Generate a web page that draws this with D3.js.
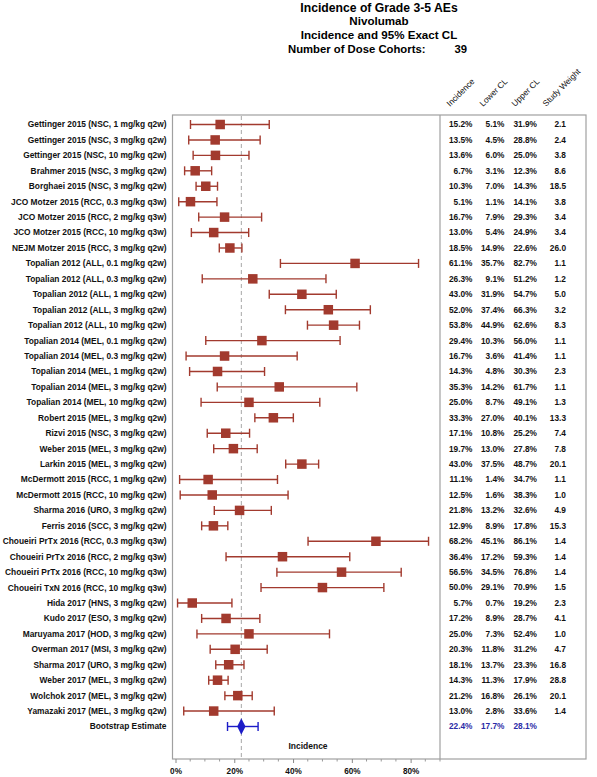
<!DOCTYPE html>
<html><head><meta charset="utf-8">
<script src="https://cdn.jsdelivr.net/npm/d3@7"></script>
<style>body{margin:0;background:#fff}svg{display:block}text{font-family:"Liberation Sans",Arial,sans-serif}</style>
</head><body>
<script>
const studies = [
"Gettinger 2015 (NSC, 1 mg/kg q2w)","Gettinger 2015 (NSC, 3 mg/kg q2w)","Gettinger 2015 (NSC, 10 mg/kg q2w)",
"Brahmer 2015 (NSC, 3 mg/kg q2w)","Borghaei 2015 (NSC, 3 mg/kg q2w)","JCO Motzer 2015 (RCC, 0.3 mg/kg q3w)",
"JCO Motzer 2015 (RCC, 2 mg/kg q3w)","JCO Motzer 2015 (RCC, 10 mg/kg q3w)","NEJM Motzer 2015 (RCC, 3 mg/kg q2w)",
"Topalian 2012 (ALL, 0.1 mg/kg q2w)","Topalian 2012 (ALL, 0.3 mg/kg q2w)","Topalian 2012 (ALL, 1 mg/kg q2w)",
"Topalian 2012 (ALL, 3 mg/kg q2w)","Topalian 2012 (ALL, 10 mg/kg q2w)","Topalian 2014 (MEL, 0.1 mg/kg q2w)",
"Topalian 2014 (MEL, 0.3 mg/kg q2w)","Topalian 2014 (MEL, 1 mg/kg q2w)","Topalian 2014 (MEL, 3 mg/kg q2w)",
"Topalian 2014 (MEL, 10 mg/kg q2w)","Robert 2015 (MEL, 3 mg/kg q2w)","Rizvi 2015 (NSC, 3 mg/kg q2w)",
"Weber 2015 (MEL, 3 mg/kg q2w)","Larkin 2015 (MEL, 3 mg/kg q2w)","McDermott 2015 (RCC, 1 mg/kg q2w)",
"McDermott 2015 (RCC, 10 mg/kg q2w)","Sharma 2016 (URO, 3 mg/kg q2w)","Ferris 2016 (SCC, 3 mg/kg q2w)",
"Choueiri PrTx 2016 (RCC, 0.3 mg/kg q3w)","Choueiri PrTx 2016 (RCC, 2 mg/kg q3w)","Choueiri PrTx 2016 (RCC, 10 mg/kg q3w)",
"Choueiri TxN 2016 (RCC, 10 mg/kg q3w)","Hida 2017 (HNS, 3 mg/kg q2w)","Kudo 2017 (ESO, 3 mg/kg q2w)",
"Maruyama 2017 (HOD, 3 mg/kg q2w)","Overman 2017 (MSI, 3 mg/kg q2w)","Sharma 2017 (URO, 3 mg/kg q2w)",
"Weber 2017 (MEL, 3 mg/kg q2w)","Wolchok 2017 (MEL, 3 mg/kg q2w)","Yamazaki 2017 (MEL, 3 mg/kg q2w)"];
const incidence = [15.2,13.5,13.6,6.7,10.3,5.1,16.7,13.0,18.5,61.1,26.3,43.0,52.0,53.8,29.4,16.7,14.3,35.3,25.0,33.3,17.1,19.7,43.0,11.1,12.5,21.8,12.9,68.2,36.4,56.5,50.0,5.7,17.2,25.0,20.3,18.1,14.3,21.2,13.0];
const lowerCL = [5.1,4.5,6.0,3.1,7.0,1.1,7.9,5.4,14.9,35.7,9.1,31.9,37.4,44.9,10.3,3.6,4.8,14.2,8.7,27.0,10.8,13.0,37.5,1.4,1.6,13.2,8.9,45.1,17.2,34.5,29.1,0.7,8.9,7.3,11.8,13.7,11.3,16.8,2.8];
const upperCL = [31.9,28.8,25.0,12.3,14.3,14.1,29.3,24.9,22.6,82.7,51.2,54.7,66.3,62.6,56.0,41.4,30.3,61.7,49.1,40.1,25.2,27.8,48.7,34.7,38.3,32.6,17.8,86.1,59.3,76.8,70.9,19.2,28.7,52.4,31.2,23.3,17.9,26.1,33.6];
const weight = [2.1,2.4,3.8,8.6,18.5,3.8,3.4,3.4,26.0,1.1,1.2,5.0,3.2,8.3,1.1,1.1,2.3,1.1,1.3,13.3,7.4,7.8,20.1,1.1,1.0,4.9,15.3,1.4,1.4,1.4,1.5,2.3,4.1,1.0,4.7,16.8,28.8,20.1,1.4];
const bootLabel = "Bootstrap Estimate";
const bootstrap = {inc:22.4, lo:17.7, hi:28.1};
const colHeaders = ["Incidence","Lower CL","Upper CL","Study Weight"];
const xTicks = [0,20,40,60,80];
const titles = ["Incidence of Grade 3-5 AEs","Nivolumab","Incidence and 95% Exact CL"];
const cohortLabel = "Number of Dose Cohorts:";
const cohortCount = "39";

const W=597,H=777;
const red="#A23A2E", blue="#1C1CC8", blueText="#2B2BA6";
const svg=d3.select("body").append("svg").attr("width",W).attr("height",H);

const frame={l:172.5,t:115,r:586,b:759}, divX=440;
const x=d3.scaleLinear().domain([0,90]).range([175.5,440]);
const rows=studies.concat([bootLabel]);
const y=d3.scalePoint().domain(rows).range([124.5,726.5]);

// titles
const tg=svg.append("g").attr("font-weight","bold").attr("fill","#000").attr("text-anchor","middle");
tg.append("text").attr("x",379).attr("y",11.5).attr("font-size",12.2).text(titles[0]);
tg.append("text").attr("x",379).attr("y",24.5).attr("font-size",11.6).text(titles[1]);
tg.append("text").attr("x",379).attr("y",38.8).attr("font-size",11.6).text(titles[2]);
tg.append("text").attr("x",288).attr("y",52.5).attr("font-size",11.3).attr("text-anchor","start").text(cohortLabel);
tg.append("text").attr("x",467).attr("y",52.5).attr("font-size",11.3).attr("text-anchor","end").text(cohortCount);

// frame
svg.append("rect").attr("x",frame.l).attr("y",frame.t).attr("width",frame.r-frame.l).attr("height",frame.b-frame.t)
  .attr("fill","none").attr("stroke","#A0A0A0").attr("stroke-width",1.2);
svg.append("line").attr("x1",divX).attr("x2",divX).attr("y1",frame.t).attr("y2",frame.b).attr("stroke","#A0A0A0").attr("stroke-width",1.2);

// reference line
svg.append("line").attr("x1",x(bootstrap.inc)).attr("x2",x(bootstrap.inc)).attr("y1",frame.t+1).attr("y2",frame.b-1)
  .attr("stroke","#A8A8A8").attr("stroke-width",1).attr("stroke-dasharray","4,3");

// row labels
svg.append("g").attr("font-size",8.4).attr("font-weight","bold").attr("text-anchor","end").attr("fill","#111")
  .selectAll("text").data(rows).join("text")
  .attr("x",166.5).attr("y",d=>y(d)).attr("dy","0.35em").text(d=>d);

// study CI
const data=studies.map((s,i)=>({s,inc:incidence[i],lo:lowerCL[i],hi:upperCL[i],w:weight[i]}));
const cg=svg.append("g").attr("stroke",red).attr("stroke-width",1.4);
cg.selectAll("line.ci").data(data).join("line").attr("class","ci")
  .attr("x1",d=>x(d.lo)).attr("x2",d=>x(d.hi)).attr("y1",d=>y(d.s)).attr("y2",d=>y(d.s));
cg.selectAll("line.capl").data(data).join("line").attr("class","capl")
  .attr("x1",d=>x(d.lo)).attr("x2",d=>x(d.lo)).attr("y1",d=>y(d.s)-4.5).attr("y2",d=>y(d.s)+4.5);
cg.selectAll("line.caph").data(data).join("line").attr("class","caph")
  .attr("x1",d=>x(d.hi)).attr("x2",d=>x(d.hi)).attr("y1",d=>y(d.s)-4.5).attr("y2",d=>y(d.s)+4.5);
const ms=9.5;
svg.append("g").selectAll("rect").data(data).join("rect")
  .attr("x",d=>x(d.inc)-ms/2).attr("y",d=>y(d.s)-ms/2).attr("width",ms).attr("height",ms).attr("fill",red);

// bootstrap
const by=y(bootLabel);
const bg=svg.append("g").attr("stroke",blue).attr("stroke-width",1.4);
bg.append("line").attr("x1",x(bootstrap.lo)).attr("x2",x(bootstrap.hi)).attr("y1",by).attr("y2",by);
bg.append("line").attr("x1",x(bootstrap.lo)).attr("x2",x(bootstrap.lo)).attr("y1",by-4.5).attr("y2",by+4.5);
bg.append("line").attr("x1",x(bootstrap.hi)).attr("x2",x(bootstrap.hi)).attr("y1",by-4.5).attr("y2",by+4.5);
svg.append("path").attr("d",d3.symbol(d3.symbolDiamond,60)()).attr("transform",`translate(${x(bootstrap.inc)},${by}) scale(1,1.15)`).attr("fill",blue);

// table
const colX=[472.5,504.5,537,566];
const fmt=v=>v.toFixed(1)+"%";
const tbl=svg.append("g").attr("font-size",8.3).attr("font-weight","bold").attr("text-anchor","end").attr("fill","#111");
data.forEach(d=>{
  const vals=[fmt(d.inc),fmt(d.lo),fmt(d.hi),d.w.toFixed(1)];
  vals.forEach((v,j)=>tbl.append("text").attr("x",colX[j]).attr("y",y(d.s)).attr("dy","0.35em").text(v));
});
[fmt(bootstrap.inc),fmt(bootstrap.lo),fmt(bootstrap.hi)].forEach((v,j)=>
  tbl.append("text").attr("x",colX[j]).attr("y",by).attr("dy","0.35em").attr("fill",blueText).text(v));

// column headers
const hx=[450,483,515,546];
svg.append("g").attr("font-size",8.3).attr("fill","#111").selectAll("text").data(colHeaders).join("text")
  .attr("transform",(d,i)=>`translate(${hx[i]},107) rotate(-45)`).text(d=>d);

// x axis
const ax=svg.append("g").attr("transform",`translate(0,${frame.b})`)
  .call(d3.axisBottom(x).tickValues(xTicks).tickFormat(d=>d+"%").tickSize(4).tickPadding(5));
ax.select(".domain").remove();
ax.selectAll(".tick line").attr("stroke","#888");
ax.selectAll("text").attr("font-size",8.2).attr("font-weight","bold").attr("fill","#111").attr("font-family","Liberation Sans, Arial, sans-serif");
const minor=d3.range(0,91,5).filter(v=>!xTicks.includes(v));
svg.append("g").selectAll("line").data(minor).join("line")
  .attr("x1",d=>x(d)).attr("x2",d=>x(d)).attr("y1",frame.b).attr("y2",frame.b+2.5).attr("stroke","#999");
svg.append("text").attr("x",308).attr("y",749).attr("text-anchor","middle").attr("font-size",8.5).attr("font-weight","bold").attr("fill","#111").text("Incidence");
</script>
</body></html>
